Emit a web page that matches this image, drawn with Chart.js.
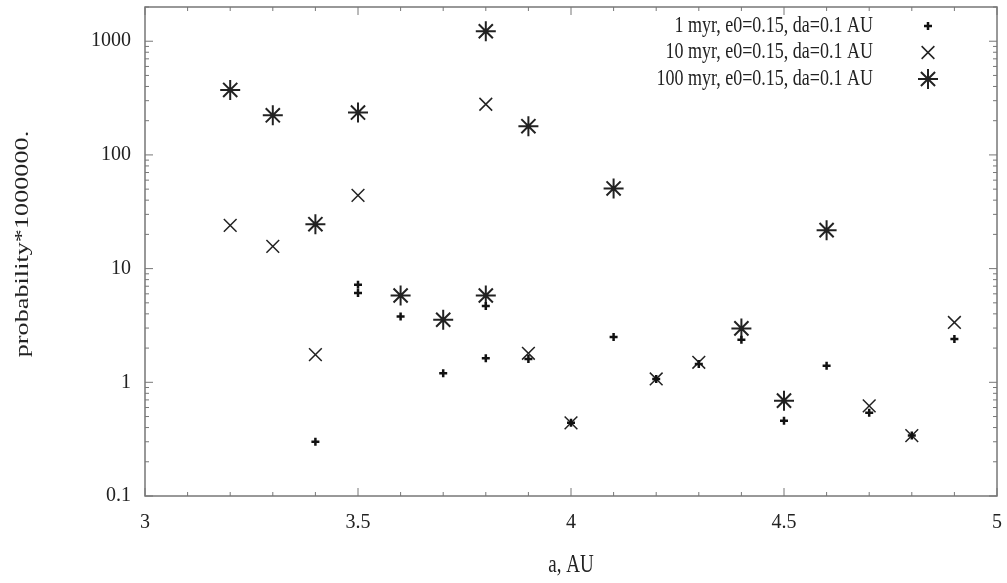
<!DOCTYPE html>
<html>
<head>
<meta charset="utf-8">
<script src="https://cdn.jsdelivr.net/npm/chart.js@4.4.0/dist/chart.umd.min.js"></script>
<style>
html, body { margin: 0; padding: 0; background: #fff; }
</style>
</head>
<body>
<canvas id="myChart" width="1007" height="583"></canvas>
<script>
// series labels
var seriesLabels = [
    '1 myr, e0=0.15, da=0.1 AU',
    '10 myr, e0=0.15, da=0.1 AU',
    '100 myr, e0=0.15, da=0.1 AU'
];

// 1 myr
var a1 = [3.4, 3.5, 3.5, 3.6, 3.7, 3.8, 3.8, 3.9, 4.0, 4.1, 4.2, 4.3, 4.4, 4.5, 4.6, 4.7, 4.8, 4.9];
var p1 = [0.30, 7.2, 6.1, 3.8, 1.2, 4.7, 1.63, 1.6, 0.44, 2.5, 1.07, 1.45, 2.37, 0.46, 1.4, 0.54, 0.34, 2.4];

// 10 myr
var a10 = [3.2, 3.3, 3.4, 3.5, 3.8, 3.9, 4.0, 4.2, 4.3, 4.7, 4.8, 4.9];
var p10 = [24, 15.7, 1.75, 44, 279, 1.8, 0.44, 1.07, 1.5, 0.62, 0.34, 3.36];

// 100 myr
var a100 = [3.2, 3.3, 3.4, 3.5, 3.6, 3.7, 3.8, 3.8, 3.9, 4.1, 4.4, 4.5, 4.6];
var p100 = [373, 223, 24.6, 236, 5.8, 3.55, 5.8, 1224, 179, 50.7, 2.98, 0.69, 21.8];

var xTicks = [3, 3.5, 4, 4.5, 5];
var yTicks = [0.1, 1, 10, 100, 1000];
var xTitle = 'a, AU';
var yTitle = 'probability*1000000.';

function toPoints(xs, ys){
    return xs.map(function(x, i){ return {x: x, y: ys[i]}; });
}

var fontFamily = '"Liberation Serif", "DejaVu Serif", serif';

function noPad(scale){
    scale.paddingTop = 0;
    scale.paddingBottom = 0;
    scale.paddingLeft = 0;
    scale.paddingRight = 0;
}

// the original image is a bit stretched vertically, so text is drawn taller
function tallText(ctx, text, x, y, sx, sy){
    ctx.save();
    ctx.translate(x, y);
    ctx.scale(sx, sy);
    ctx.fillText(text, 0, 0);
    ctx.restore();
}

// frame, inward ticks (gnuplot style), titles and the legend inside the plot
var framePlugin = {
    id: 'frame',
    afterDraw: function(chart){
        var ctx = chart.ctx;
        var area = chart.chartArea;
        var xs = chart.scales.x, ys = chart.scales.y;
        ctx.save();
        ctx.strokeStyle = '#777';
        ctx.lineWidth = 1.5;
        ctx.strokeRect(area.left, area.top, area.right - area.left, area.bottom - area.top);

        ctx.lineWidth = 1;
        ctx.beginPath();
        for (var i = 0; i <= 20; i++) {
            var v = 3 + i * 0.1;
            var px = xs.getPixelForValue(v);
            var len = (i % 5 === 0) ? 8 : 4;
            ctx.moveTo(px, area.bottom); ctx.lineTo(px, area.bottom - len);
            ctx.moveTo(px, area.top); ctx.lineTo(px, area.top + len);
        }
        for (var k = -1; k <= 3; k++) {
            for (var m = 1; m <= 9; m++) {
                var val = m * Math.pow(10, k);
                if (val > ys.max * 1.001) break;
                var py = ys.getPixelForValue(val);
                var l = (m === 1) ? 8 : 4;
                ctx.moveTo(area.left, py); ctx.lineTo(area.left + l, py);
                ctx.moveTo(area.right, py); ctx.lineTo(area.right - l, py);
            }
        }
        ctx.stroke();

        ctx.fillStyle = '#222';
        ctx.font = '19px ' + fontFamily;
        ctx.textBaseline = 'middle';
        ctx.textAlign = 'center';

        // x title
        tallText(ctx, xTitle, (area.left + area.right) / 2, 566, 1, 1.3);

        // y title, rotated
        ctx.save();
        ctx.translate(23, 244);
        ctx.rotate(-Math.PI / 2);
        tallText(ctx, yTitle, 0, 0, 1.38, 1);
        ctx.restore();

        // legend
        ctx.font = '18px ' + fontFamily;
        ctx.textAlign = 'right';
        chart.data.datasets.forEach(function(ds, i){
            var y = 26 + i * 26.5;
            ctx.fillStyle = '#222';
            tallText(ctx, ds.label, 873, y, 1, 1.25);
            ctx.strokeStyle = ds.borderColor;
            ctx.fillStyle = ds.backgroundColor;
            ctx.lineWidth = ds.pointBorderWidth;
            Chart.helpers.drawPoint(ctx, {pointStyle: ds.pointStyle, radius: ds.pointRadius, borderWidth: ds.pointBorderWidth}, 928, y);
        });
        ctx.restore();
    }
};

var ctx = document.getElementById('myChart').getContext('2d');
var myChart = new Chart(ctx, {
    type: 'scatter',
    data: {
        datasets: [{
            label: seriesLabels[0],
            data: toPoints(a1, p1),
            pointStyle: 'cross',
            pointRadius: 4,
            pointBorderWidth: 2.5,
            borderColor: '#111',
            backgroundColor: '#111'
        }, {
            label: seriesLabels[1],
            data: toPoints(a10, p10),
            pointStyle: 'crossRot',
            pointRadius: 9,
            pointBorderWidth: 1.5,
            borderColor: '#222',
            backgroundColor: '#222'
        }, {
            label: seriesLabels[2],
            data: toPoints(a100, p100),
            pointStyle: 'star',
            pointRadius: 10,
            pointBorderWidth: 2,
            borderColor: '#222',
            backgroundColor: '#222'
        }]
    },
    options: {
        responsive: false,
        animation: false,
        devicePixelRatio: 1,
        layout: { autoPadding: false, padding: { left: 0, right: 10, top: 7, bottom: 0 } },
        plugins: {
            legend: { display: false },
            tooltip: { enabled: false }
        },
        scales: {
            x: {
                type: 'linear',
                min: 3,
                max: 5,
                afterFit: function(scale){ scale.height = 87; noPad(scale); },
                afterBuildTicks: function(scale){
                    scale.ticks = xTicks.map(function(v){ return {value: v}; });
                },
                grid: { display: false, drawTicks: false },
                border: { display: false },
                ticks: {
                    padding: 15,
                    color: '#222',
                    font: { family: fontFamily, size: 20 },
                    callback: function(v){ return String(v); }
                }
            },
            y: {
                type: 'logarithmic',
                min: 0.1,
                max: 2000,
                afterFit: function(scale){ scale.width = 145; noPad(scale); },
                afterBuildTicks: function(scale){
                    scale.ticks = yTicks.map(function(v){ return {value: v}; });
                },
                grid: { display: false, drawTicks: false },
                border: { display: false },
                ticks: {
                    padding: 14,
                    color: '#222',
                    font: { family: fontFamily, size: 20 },
                    callback: function(v){ return String(v); }
                }
            }
        }
    },
    plugins: [framePlugin]
});
</script>
</body>
</html>
